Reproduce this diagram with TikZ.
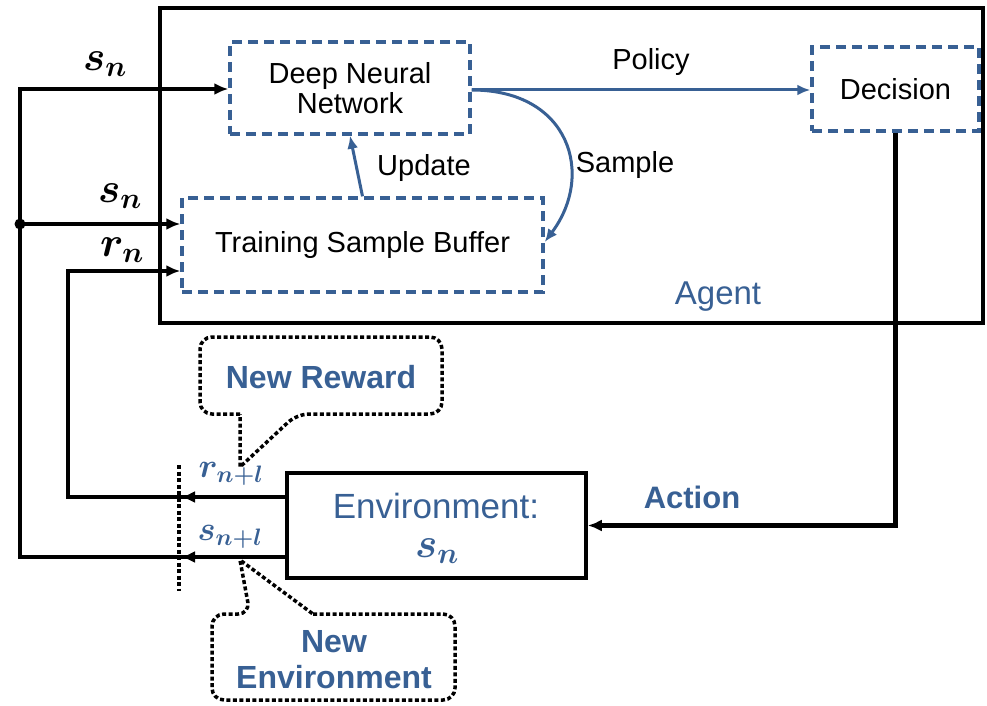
\RequirePackage{fix-cm}
\documentclass[tikz,border=0pt]{standalone}
\usepackage{fontspec}
\setmainfont{Liberation Sans}
\usepackage{bm}
\usetikzlibrary{arrows.meta,calc}
\definecolor{agblue}{RGB}{56,96,148}
\begin{document}
\begin{tikzpicture}[x=1pt,y=-1pt,
  txt/.style={font=\fontsize{29}{34}\selectfont, align=center},
  btxt/.style={font=\fontsize{32}{38}\selectfont\bfseries, text=agblue, align=center},
  mlab/.style={font=\fontsize{42}{46}\selectfont},
  slab/.style={font=\fontsize{34}{38}\selectfont, text=agblue},
  dbox/.style={draw=agblue, line width=3.4pt, dash pattern=on 10pt off 6pt, txt, inner sep=0pt},
  wire/.style={line width=4.4pt, black},
  bwire/.style={line width=3pt, agblue},
  tip/.style={-{Latex[length=14pt,width=12pt]}},
  btip/.style={-{Latex[length=13pt,width=11pt]}},
  callout/.style={line width=3.5pt, dash pattern=on 4pt off 2.5pt, rounded corners=12pt}]
\useasboundingbox (0,0) rectangle (987,706);

% agent frame
\node[draw, line width=4.5pt, minimum width=823pt, minimum height=315pt, inner sep=0pt] (agent) at (571.5,165.5) {};
\node[font=\fontsize{33}{38}\selectfont, text=agblue] (agentlab) at (718,297) {Agent};

% blocks inside the agent
\node[dbox, minimum width=240pt, minimum height=92pt] (dnn) at (350,88) {Deep Neural\\[-4pt]Network};
\node[dbox, minimum width=167pt, minimum height=84pt] (dec) at (895.5,89) {Decision};
\node[dbox, minimum width=361pt, minimum height=94pt] (tsb) at (362.5,245) {Training Sample Buffer};

% environment
\node[draw, line width=3.5pt, minimum width=299pt, minimum height=105pt, inner sep=0pt] (env) at (436.5,525.5) {};
\node[font=\fontsize{35}{40}\selectfont, text=agblue, inner sep=0pt] (envtxt) at (436,506) {Environment:};
\node[font=\fontsize{42}{46}\selectfont, text=agblue, inner sep=0pt] (envs) at (437,551) {$\bm{s_n}$};

% inner flows
\draw[bwire, btip] (dnn.east |- 0,90) coordinate (dout) -- (dec.west |- dout);
\node[txt] (pol) at (651,62) {Policy};
\draw[bwire, btip] (dout) .. controls (570,90) and (595,175) .. (tsb.east |- 0,242);
\node[txt] (smp) at (625,165) {Sample};
\draw[bwire, btip] (tsb.north) -- (dnn.south);
\node[txt] (upd) at (424,168) {Update};

% feedback wiring
\coordinate (eR) at (env.west |- 0,497);
\coordinate (eS) at (env.west |- 0,557);
\coordinate (cR) at (68,497);
\coordinate (cS) at (20,557);
\coordinate (jn) at (20,224);
\coordinate (rin) at (tsb.west |- 0,271);
\coordinate (rtip) at (181,497);
\coordinate (stip) at (181,557);

\draw[wire, tip] (eS) -- (cS) |- (dnn.west |- 0,89);
\draw[wire, tip] (jn) -- (tsb.west |- jn);
\fill (jn) circle (5.5pt);
\draw[wire, tip] (eR) -- (cR) |- (rin);
\draw[wire, tip] (eR) -- (rtip);
\draw[wire, tip] (eS) -- (stip);
\draw[wire, tip] (dec.south) |- (env.east);

\node[mlab] (s1) at (105,64) {$\bm{s_n}$};
\node[mlab] (s2) at (120,196) {$\bm{s_n}$};
\node[mlab] (r1) at (122,250) {$\bm{r_n}$};
\node[slab] (r2) at (231,474) {$\bm{r_{n+l}}$};
\node[slab] (s3) at (230,537) {$\bm{s_{n+l}}$};
\node[btxt, font=\fontsize{31}{36}\selectfont\bfseries] (act) at (692,497) {Action};

% sampling cut
\coordinate (cutT) at (179,465);
\coordinate (cutB) at (179,591);
\draw[line width=3.5pt, dash pattern=on 4pt off 2.5pt] (cutT) -- (cutB);

% callouts
\node[btxt] (nr) at (321,377) {New Reward};
\coordinate (nrtip) at (240,467);
\draw[callout] (240,414) -- (200,414) -- (200,337) -- (442,337) -- (442,414) -- (297,414) [sharp corners] -- (nrtip) -- cycle;

\node[btxt] (ne) at (334,660) {New\\[-2pt]Environment};
\coordinate (netip) at (240,560);
\draw[callout] (313,614) -- (455,614) -- (455,700) -- (212,700) -- (212,614) -- (250,614) [sharp corners] -- (netip) -- cycle;
\end{tikzpicture}
\end{document}
